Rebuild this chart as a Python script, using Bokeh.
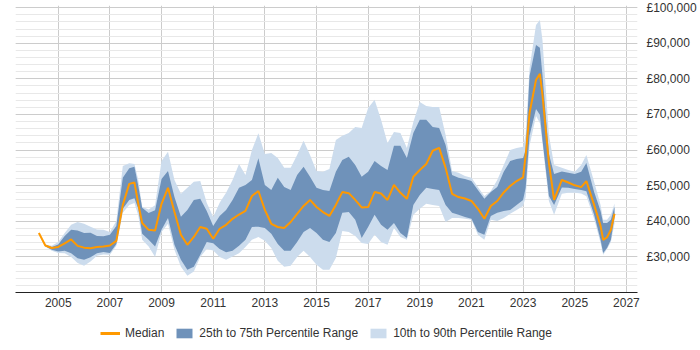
from bokeh.plotting import figure
from bokeh.layouts import column
from bokeh.models import Range1d, FixedTicker, Legend, LegendItem
from bokeh.embed import file_html
from bokeh.resources import INLINE

# Sample dates (decimal years) and salary percentiles in £ thousands
years = [2004.25, 2004.5, 2004.75, 2005.0, 2005.25, 2005.5, 2005.75, 2006.0, 2006.25, 2006.5,
         2006.75, 2007.0, 2007.25, 2007.5, 2007.75, 2007.95, 2008.1, 2008.25, 2008.5, 2008.75,
         2009.0, 2009.25, 2009.5, 2009.75, 2010.0, 2010.25, 2010.5, 2010.75, 2011.0, 2011.25,
         2011.5, 2011.75, 2012.0, 2012.25, 2012.5, 2012.75, 2013.0, 2013.25, 2013.5, 2013.75,
         2014.0, 2014.25, 2014.5, 2014.75, 2015.0, 2015.25, 2015.5, 2015.75, 2016.0, 2016.25,
         2016.5, 2016.75, 2017.0, 2017.25, 2017.5, 2017.75, 2018.0, 2018.25, 2018.5, 2018.75,
         2019.0, 2019.25, 2019.5, 2019.75, 2020.0, 2020.25, 2020.5, 2020.75, 2021.0, 2021.25,
         2021.5, 2021.75, 2022.0, 2022.25, 2022.5, 2022.75, 2023.0, 2023.1, 2023.25, 2023.5,
         2023.65, 2023.75, 2024.0, 2024.2, 2024.5, 2024.75, 2025.0, 2025.25, 2025.45, 2025.75,
         2026.0, 2026.1, 2026.25, 2026.4, 2026.54]

median_k = [36.7, 33.2, 32.5, 32.8, 33.8, 34.9, 33.1, 32.6, 32.4, 32.8,
            32.9, 33.2, 34.5, 44.6, 50.5, 50.9, 44.9, 39.5, 37.6, 37.4,
            44.9, 49.4, 42.6, 36.2, 33.4, 35.6, 38.4, 37.9, 35.1, 37.9,
            39.0, 40.7, 41.9, 42.9, 47.1, 48.5, 43.2, 39.3, 38.4, 38.1,
            39.8, 42.1, 44.3, 46.0, 44.0, 42.6, 41.5, 44.6, 48.2, 47.9,
            46.0, 43.9, 44.0, 48.2, 47.8, 46.0, 50.2, 48.0, 46.3, 52.5,
            54.4, 56.1, 59.8, 60.6, 55.0, 47.7, 46.8, 46.4, 45.7, 43.5,
            40.7, 44.3, 45.7, 48.1, 49.9, 51.3, 52.3, 58.6, 70.4, 79.7,
            81.4, 75.5, 56.4, 46.0, 51.6, 50.9, 50.1, 49.6, 51.3, 44.6,
            38.7, 34.8, 35.5, 37.6, 42.1]

p25_k = [36.7, 33.0, 32.0, 31.5, 31.7, 31.0, 29.6, 29.2, 29.9, 31.0,
         31.4, 31.1, 33.6, 43.5, 46.0, 46.5, 43.5, 36.5, 34.8, 32.9,
         37.6, 40.9, 33.4, 29.2, 26.4, 27.2, 30.6, 34.2, 33.8, 32.2,
         31.3, 31.7, 33.1, 34.8, 38.4, 38.5, 38.1, 36.5, 33.6, 31.7,
         31.7, 34.2, 37.0, 38.1, 36.7, 34.8, 34.2, 36.7, 42.4, 42.6,
         40.4, 35.3, 38.4, 41.8, 39.0, 37.6, 39.5, 36.7, 35.3, 44.6,
         47.4, 49.4, 49.1, 48.8, 44.6, 42.4, 41.8, 41.2, 40.7, 37.0,
         36.2, 41.5, 42.4, 42.9, 43.2, 44.6, 46.0, 49.4, 64.0, 71.5,
         69.9, 62.8, 47.1, 44.6, 49.5, 49.4, 49.1, 48.8, 48.4, 41.8,
         34.8, 31.1, 32.5, 34.8, 41.3]

p75_k = [36.7, 33.4, 32.8, 33.5, 35.9, 37.6, 37.4, 36.7, 36.8, 35.9,
         35.8, 36.2, 38.7, 52.2, 54.9, 55.3, 49.9, 43.8, 42.3, 43.1,
         51.9, 54.1, 46.8, 41.3, 43.2, 46.0, 46.3, 42.9, 38.7, 41.5,
         43.2, 46.0, 49.4, 50.2, 51.6, 57.7, 50.2, 48.8, 52.2, 49.6,
         48.8, 53.0, 55.3, 52.5, 49.4, 48.8, 48.5, 53.9, 57.2, 58.1,
         55.8, 52.5, 53.9, 56.9, 55.5, 54.4, 61.2, 61.2, 57.8, 64.8,
         68.5, 68.5, 66.5, 66.2, 61.4, 53.0, 52.2, 51.9, 51.3, 48.8,
         46.3, 48.2, 49.6, 53.9, 56.9, 57.5, 57.8, 60.0, 80.8, 89.5,
         88.7, 81.1, 58.9, 53.3, 54.0, 53.6, 53.3, 53.9, 56.4, 48.2,
         42.9, 39.5, 39.5, 40.4, 44.1]

p10_k = [36.7, 32.9, 31.7, 31.1, 31.0, 30.0, 28.3, 27.5, 28.7, 30.3,
         30.7, 30.6, 33.1, 42.4, 44.6, 45.1, 41.6, 34.8, 32.9, 30.0,
         37.0, 39.3, 32.0, 27.2, 24.7, 25.9, 30.0, 32.2, 31.8, 30.0,
         29.2, 30.1, 31.0, 32.8, 34.8, 35.6, 34.5, 32.5, 28.9, 27.2,
         27.5, 30.0, 31.7, 30.0, 27.8, 26.4, 26.4, 29.7, 37.3, 37.0,
         35.9, 33.9, 33.6, 36.2, 34.2, 33.4, 38.1, 35.6, 34.8, 41.8,
         43.5, 44.9, 44.6, 44.3, 39.8, 40.9, 40.9, 40.7, 40.4, 36.2,
         34.8, 40.4, 40.1, 40.9, 42.1, 43.2, 44.3, 46.8, 61.2, 69.6,
         67.6, 62.0, 45.7, 41.8, 47.7, 48.0, 48.0, 47.8, 47.0, 40.7,
         33.9, 30.6, 32.2, 34.2, 39.4]

p90_k = [36.7, 33.5, 33.1, 34.2, 36.7, 39.0, 39.8, 39.3, 38.5, 37.7,
         37.6, 37.0, 40.1, 55.5, 56.3, 56.1, 51.6, 44.1, 43.3, 44.5,
         56.9, 59.5, 51.6, 47.7, 49.4, 51.1, 51.3, 45.2, 41.2, 45.2,
         48.0, 51.6, 56.1, 53.0, 60.0, 64.7, 58.9, 59.2, 57.8, 55.0,
         55.0, 58.6, 62.6, 58.6, 54.1, 53.9, 54.7, 62.8, 64.0, 64.8,
         66.5, 66.2, 71.8, 74.1, 68.5, 62.0, 65.1, 64.8, 60.6, 67.9,
         73.5, 72.4, 72.1, 72.1, 64.2, 54.1, 53.6, 52.7, 52.2, 49.6,
         47.1, 48.5, 51.6, 55.8, 60.0, 60.6, 60.9, 64.2, 83.0, 95.1,
         96.5, 90.9, 64.2, 55.8, 55.0, 54.4, 53.9, 55.8, 58.6, 51.1,
         44.6, 40.4, 40.4, 41.8, 45.0]

x_ticks = [2005, 2007, 2009, 2011, 2013, 2015, 2017, 2019, 2021, 2023, 2025, 2027]
y_ticks = [30000, 40000, 50000, 60000, 70000, 80000, 90000, 100000]
y_minor_ticks = list(range(20000, 100001, 2000))

to_gbp = lambda seq: [v * 1000 for v in seq]
median = to_gbp(median_k)
p25 = to_gbp(p25_k)
p75 = to_gbp(p75_k)
p10 = to_gbp(p10_k)
p90 = to_gbp(p90_k)

FONT = "Liberation Sans"
TEXT = "#333333"
C_MED = "#FF9900"
C_IQR = "#6F92BA"
C_OUTER = "#CCDCED"

# ---- main chart -------------------------------------------------------
p = figure(width=700, height=312, output_backend="svg", toolbar_location=None,
           x_range=Range1d(2003.345, 2027.43), y_range=Range1d(20000, 100600),
           y_axis_location="right",
           min_border_left=15, min_border_top=5, min_border_right=63, min_border_bottom=20)
p.outline_line_color = None
p.background_fill_color = "white"

p.varea(x=years, y1=p10, y2=p90, fill_color=C_OUTER, fill_alpha=1.0)
p.varea(x=years, y1=p25, y2=p75, fill_color=C_IQR, fill_alpha=1.0)
p.line(x=years, y=median, line_color=C_MED, line_width=2)

# x axis: odd years, no tick marks
xa = p.xaxis[0]
xa.ticker = FixedTicker(ticks=x_ticks)
xa.major_label_overrides = {t: str(t) for t in x_ticks}
xa.major_tick_line_color = None
xa.minor_tick_line_color = None
xa.major_tick_out = 0
xa.minor_tick_out = 0
xa.axis_line_color = "#222222"
xa.axis_line_width = 1
xa.major_label_text_font = FONT
xa.major_label_text_font_size = "12px"
xa.major_label_text_color = TEXT
xa.major_label_standoff = 5

# y axis on the right with pound labels
ya = p.yaxis[0]
ya.ticker = FixedTicker(ticks=y_ticks, minor_ticks=y_minor_ticks)
ya.major_label_overrides = {t: f"£{t:,}" for t in y_ticks}
ya.axis_line_color = None
ya.major_tick_line_color = None
ya.minor_tick_line_color = None
ya.major_tick_out = 0
ya.minor_tick_out = 0
ya.major_label_text_font = FONT
ya.major_label_text_font_size = "12px"
ya.major_label_text_color = TEXT
ya.major_label_standoff = 9

p.xgrid.grid_line_color = "#cccccc"
p.ygrid.grid_line_color = "#cccccc"
p.ygrid.minor_grid_line_color = "#e8e8e8"

# ---- legend strip -----------------------------------------------------
# key glyphs sit outside the strip's visible range; only their legend swatches show
lg = figure(width=700, height=38, output_backend="svg", toolbar_location=None,
            x_axis_type=None, y_axis_type=None,
            x_range=Range1d(0, 1), y_range=Range1d(0, 1),
            min_border_left=0, min_border_right=0, min_border_top=0, min_border_bottom=0)
lg.outline_line_color = None
lg.xgrid.visible = False
lg.ygrid.visible = False
k_med = lg.line(x=[0, 1], y=[5, 5], line_color=C_MED, line_width=3)
k_iqr = lg.varea(x=[0, 1], y1=[5, 5], y2=[6, 6], fill_color=C_IQR)
k_out = lg.varea(x=[0, 1], y1=[5, 5], y2=[6, 6], fill_color=C_OUTER)

legend = Legend(items=[LegendItem(label="Median", renderers=[k_med]),
                       LegendItem(label="25th to 75th Percentile Range", renderers=[k_iqr]),
                       LegendItem(label="10th to 90th Percentile Range", renderers=[k_out])],
                orientation="horizontal", location=(85, 10),
                label_text_font=FONT, label_text_font_size="12px", label_text_color=TEXT,
                glyph_width=20, glyph_height=12, label_standoff=5, spacing=10,
                padding=2, margin=0, border_line_color=None, background_fill_alpha=0)
lg.add_layout(legend, "center")

open("out.html", "w").write(file_html(column(p, lg, spacing=0), INLINE))
